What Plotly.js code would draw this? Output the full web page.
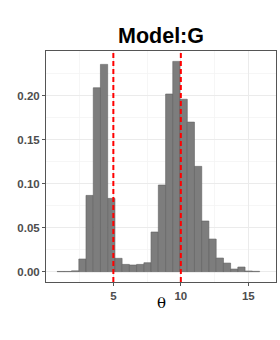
<!DOCTYPE html>
<html>
<head>
<meta charset="utf-8">
<script src="https://cdn.plot.ly/plotly-3.0.1.min.js"></script>
<style>html,body{margin:0;padding:0;background:#fff;}#chart{width:280px;height:340px;}</style>
</head>
<body>
<div id="chart"></div>
<script>
// bin centers (theta)
var thetaBins = [1.10, 1.63, 2.17, 2.71, 3.24, 3.78, 4.31, 4.85, 5.38, 5.92, 6.46, 6.99, 7.53, 8.06,
                 8.60, 9.14, 9.67, 10.21, 10.74, 11.28, 11.81, 12.35, 12.89, 13.42, 13.96, 14.49, 15.03, 15.57];
var binWidth = 0.536;
// density values
var density = [0.0003, 0.0003, 0.0010, 0.0144, 0.0867, 0.2090, 0.2356, 0.0833, 0.0152, 0.0083, 0.0076, 0.0083, 0.0102, 0.0451,
               0.0985, 0.2019, 0.2390, 0.1960, 0.1700, 0.1197, 0.0576, 0.0371, 0.0155, 0.0098, 0.0030, 0.0053, 0.0008, 0.0004];
var refLines = [5, 10];
var xTicks = [5, 10, 15];
var yTicks = [0.00, 0.05, 0.10, 0.15, 0.20];
var yTickLabels = ['0.00', '0.05', '0.10', '0.15', '0.20'];
var titleText = 'Model:G';
var xTitle = 'θ';

var trace = {
  type: 'bar',
  x: thetaBins,
  y: density,
  width: thetaBins.map(function(){return binWidth;}),
  marker: {color: 'rgb(125,125,125)', line: {color: 'rgb(95,95,95)', width: 0.6}},
  hoverinfo: 'skip'
};

var shapes = refLines.map(function(v){
  return {type: 'line', xref: 'x', yref: 'paper', x0: v, x1: v, y0: 0, y1: 1,
          line: {color: 'rgb(255,0,0)', width: 2, dash: '5px,3px'}, layer: 'above'};
});

var tickFont = {family: 'Liberation Sans, Arial, sans-serif', size: 11.5, color: '#4d4d4d', weight: 'bold'};

var layout = {
  width: 280, height: 340,
  margin: {l: 45.5, r: 4, t: 51, b: 58},
  paper_bgcolor: '#ffffff', plot_bgcolor: '#ffffff',
  showlegend: false,
  bargap: 0,
  title: {text: titleText, x: 0.5, xref: 'paper', y: 1 - 35/340, yref: 'container', yanchor: 'middle',
          font: {family: 'Liberation Sans, Arial, sans-serif', size: 21.5, color: '#000000', weight: 'bold'}},
  xaxis: {
    range: [0.01, 17.05], tickvals: xTicks, ticktext: xTicks.map(String),
    ticks: 'outside', ticklen: 3, tickwidth: 1, tickcolor: '#555',
    showgrid: true, gridcolor: '#ebebeb', gridwidth: 1,
    minor: {dtick: 2.5, tick0: 0, showgrid: true, gridcolor: '#f4f4f4', gridwidth: 0.8},
    zeroline: false, showline: true, mirror: true, linecolor: '#555', linewidth: 1,
    tickfont: tickFont
  },
  yaxis: {
    range: [-0.0117, 0.2508], tickvals: yTicks, ticktext: yTickLabels,
    ticks: 'outside', ticklen: 3, tickwidth: 1, tickcolor: '#555',
    showgrid: true, gridcolor: '#ebebeb', gridwidth: 1,
    minor: {dtick: 0.025, tick0: 0, showgrid: true, gridcolor: '#f4f4f4', gridwidth: 0.8},
    zeroline: false, showline: true, mirror: true, linecolor: '#555', linewidth: 1,
    tickfont: tickFont
  },
  annotations: [{
    text: xTitle, xref: 'paper', yref: 'paper', x: 0.5, y: -(303 - 282) / 231,
    xanchor: 'center', yanchor: 'middle', showarrow: false,
    font: {family: 'DejaVu Serif, serif', size: 15, color: '#000'}
  }],
  shapes: shapes
};

Plotly.newPlot('chart', [trace], layout, {displayModeBar: false, staticPlot: true});
</script>
</body>
</html>
